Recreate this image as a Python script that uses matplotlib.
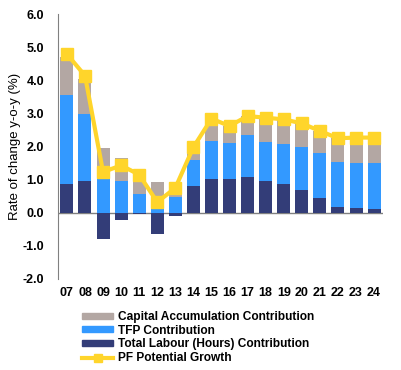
import matplotlib.pyplot as plt
import numpy as np
from matplotlib.patches import Patch
from matplotlib.lines import Line2D

plt.rcParams['font.family'] = ['Liberation Sans', 'DejaVu Sans']
plt.rcParams['font.weight'] = 'bold'

years = ['07', '08', '09', '10', '11', '12', '13', '14', '15', '16',
         '17', '18', '19', '20', '21', '22', '23', '24']
labour = [0.88, 0.97, -0.78, -0.23, -0.05, -0.63, -0.11, 0.80, 1.03, 1.03,
          1.09, 0.95, 0.86, 0.70, 0.46, 0.16, 0.13, 0.10]
tfp = [2.68, 2.02, 1.03, 0.97, 0.57, 0.11, 0.49, 0.78, 1.13, 1.07,
       1.26, 1.18, 1.23, 1.30, 1.33, 1.37, 1.36, 1.39]
capital = [1.14, 1.05, 0.94, 0.69, 0.63, 0.81, 0.37, 0.40, 0.68, 0.52,
           0.57, 0.74, 0.73, 0.70, 0.68, 0.72, 0.78, 0.78]
potential = [4.79, 4.14, 1.23, 1.43, 1.15, 0.32, 0.75, 1.98, 2.84, 2.62,
             2.92, 2.87, 2.82, 2.70, 2.47, 2.25, 2.27, 2.27]

c_cap = '#B3A7A3'
c_tfp = '#3399FF'
c_lab = '#333D78'
c_pf = '#FFD52B'

fig = plt.figure(figsize=(4.02, 3.70), dpi=100)
ax = fig.add_axes([0.144, 0.246, 0.809, 0.716])

x = np.arange(len(years))
lab = np.array(labour)
t = np.array(tfp)
pos_base = np.where(lab > 0, lab, 0)
w = 0.72
ax.bar(x, lab, w, color=c_lab, zorder=2)
ax.bar(x, t, w, bottom=pos_base, color=c_tfp, zorder=2)
ax.bar(x, capital, w, bottom=pos_base + t, color=c_cap, zorder=2)
ax.plot(x, potential, color=c_pf, lw=3, marker='s', markersize=9, zorder=3)

ax.axhline(0, color='#808080', lw=1, zorder=1)
ax.set_xlim(-0.5, len(years) - 0.5)
ax.set_ylim(-2, 6)
ax.set_yticks(np.arange(-2, 6.1, 1))
ax.set_yticklabels([f'{v:.1f}' for v in np.arange(-2, 6.1, 1)])
ax.set_xticks(x)
ax.set_xticklabels(years)
ax.tick_params(axis='both', length=0, labelsize=9)
ax.tick_params(axis='y', pad=10)
ax.tick_params(axis='x', pad=6)
for s in ['top', 'right', 'bottom']:
    ax.spines[s].set_visible(False)
ax.spines['left'].set_color('#808080')
ax.set_ylabel('Rate of change y-o-y (%)', fontsize=9.5, labelpad=1)

handles = [Patch(color=c_cap), Patch(color=c_tfp), Patch(color=c_lab),
           Line2D([], [], color=c_pf, lw=3, marker='s', markersize=6)]
labels = ['Capital Accumulation Contribution', 'TFP Contribution',
          'Total Labour (Hours) Contribution', 'PF Potential Growth']
fig.legend(handles, labels, loc='upper left', bbox_to_anchor=(0.205, 0.16),
           frameon=False, fontsize=8.6, handlelength=2.6, handleheight=0.4,
           handletextpad=0.4, labelspacing=0.15, borderaxespad=0, borderpad=0)

fig.savefig('out.png', dpi=100)
